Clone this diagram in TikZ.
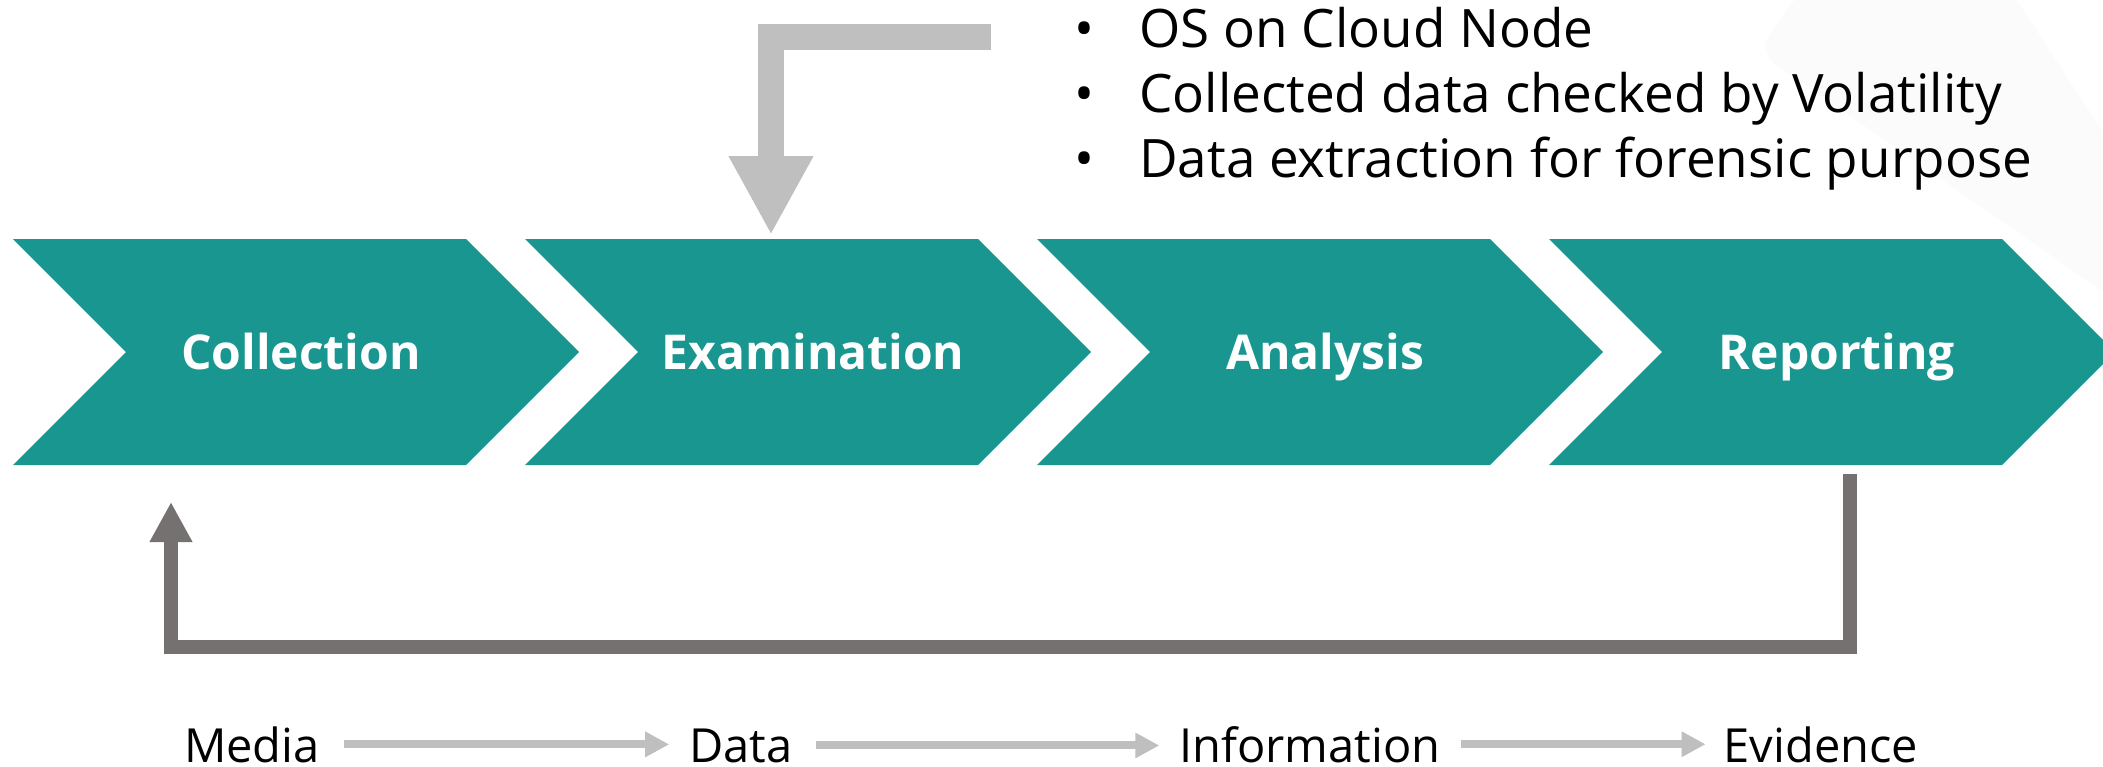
\documentclass[tikz,border=0pt]{standalone}
\usepackage{fontspec}
\setmainfont{Open Sans}
\usetikzlibrary{arrows.meta}
\definecolor{tealc}{HTML}{1A9691}
\definecolor{lgray}{HTML}{BFBFBF}
\definecolor{dgray}{HTML}{767171}
\begin{document}
\begin{tikzpicture}[x=1pt,y=-1pt,
  chev/.style={fill=tealc},
  lab/.style={text=white, font=\fontsize{48}{58}\selectfont\bfseries, inner sep=0pt, anchor=base},
  bul/.style={font=\fontsize{53}{64}\selectfont, inner sep=0pt, anchor=base west},
  stage/.style={font=\fontsize{47}{56}\selectfont, inner sep=0pt, anchor=base},
  flow/.style={draw=lgray, line width=8pt, -{Triangle[length=24pt,width=24pt]}},
  bigarrow/.style={draw=lgray, line width=26pt, -{Triangle[length=79pt,width=79pt]}},
  backarrow/.style={draw=dgray, line width=14pt, -{Triangle[length=40pt,width=40pt]}},
]
\useasboundingbox (0,0) rectangle (2103,766);
% faint background band
\fill[black!1.5, rounded corners=20pt] (1800,-10) -- (2010,-10) -- (2115,150) -- (2115,300) -- (1758,52) -- cycle;
% chevrons
\foreach \i/\t/\n in {0/Collection/c1, 1/Examination/c2, 2/Analysis/c3, 3/Reporting/c4} {
  \pgfmathsetmacro\xl{13+512*\i}
  \fill[chev] (\xl,239) -- ++(453,0) -- ++(113,113) -- ++(-113,113) -- ++(-453,0) -- ++(113,-113) -- cycle;
  \node[lab] (\n) at (\xl+288,369) {\t};
}
% bullet list
\node[bul, anchor=base] (b1) at (1084,47) {•};
\node[bul, anchor=base] (b2) at (1084,112) {•};
\node[bul, anchor=base] (b3) at (1084,177) {•};
\node[bul] (t1) at (1139,47) {OS on Cloud Node};
\node[bul] (t2) at (1139,112) {Collected data checked by Volatility};
\node[bul] (t3) at (1139,177) {Data extraction for forensic purpose};
% top arrow
\coordinate (tstart) at (991,37);
\coordinate (ttip) at (771,235);
\draw[bigarrow] (tstart) -| (ttip);
% return arrow
\coordinate (bstart) at (1850,474);
\coordinate (bcorner) at (1850,647);
\coordinate (btip) at (171,502);
\draw[backarrow] (bstart) -- (bcorner) -| (btip);
% stages
\node[stage] (m) at (252,762) {Media};
\node[stage] (d) at (741,762) {Data};
\node[stage] (inf) at (1310,762) {Information};
\node[stage] (ev) at (1821,762) {Evidence};
\draw[flow, shorten <=24pt, shorten >=20pt] (m.east) -- (m.east -| d.west);
\draw[flow, shorten <=23pt, shorten >=20pt] (d.east) -- (d.east -| inf.west);
\draw[flow, shorten <=20pt, shorten >=18pt] (inf.east) -- (inf.east -| ev.west);
\end{tikzpicture}
\end{document}
